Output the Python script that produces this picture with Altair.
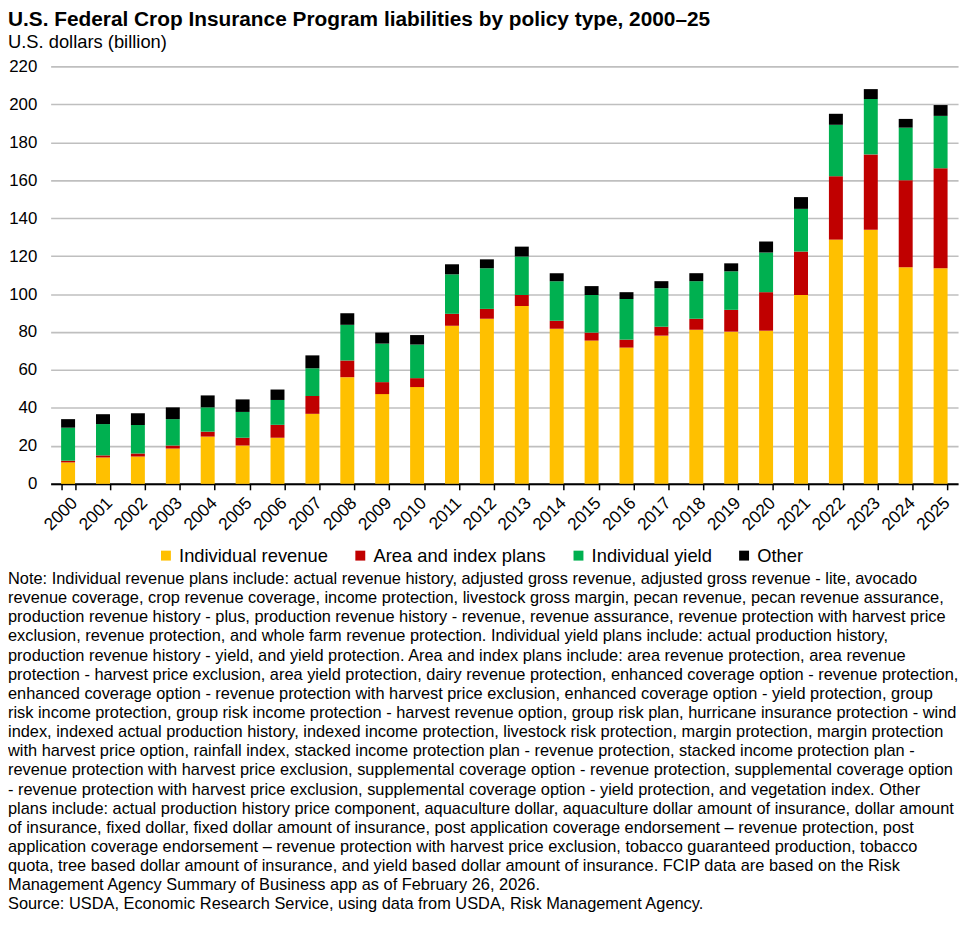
import altair as alt
import pandas as pd

years = [str(y) for y in range(2000, 2026)]
series = ["Individual revenue", "Area and index plans", "Individual yield", "Other"]
colors = ["#FFC000", "#C00000", "#00B050", "#000000"]

individual_revenue = [11.3, 13.9, 14.4, 18.6, 24.9, 20.2, 24.3, 36.9, 56.2, 47.3, 51.0, 83.3, 87.0,
                      93.7, 81.7, 75.5, 71.8, 78.1, 81.2, 80.2, 80.7, 99.5, 128.7, 133.9, 114.1, 113.6]
area_index = [0.9, 1.1, 1.6, 1.6, 2.6, 4.1, 6.8, 9.4, 8.8, 6.3, 4.7, 6.3, 5.2,
              5.8, 4.2, 4.2, 4.2, 4.7, 5.8, 11.5, 20.3, 22.9, 33.4, 39.7, 45.9, 52.7]
individual_yield = [17.4, 16.5, 15.0, 13.9, 12.8, 13.6, 13.1, 14.6, 18.8, 20.3, 17.7, 20.8, 21.4,
                    20.3, 20.9, 19.8, 21.4, 20.3, 19.8, 20.3, 20.9, 22.5, 27.1, 29.2, 27.7, 27.6]
other = [4.5, 5.2, 6.2, 6.2, 6.3, 6.6, 5.5, 6.8, 6.1, 5.8, 5.0, 5.3, 4.7,
         5.2, 4.2, 4.7, 3.6, 3.7, 4.2, 4.2, 5.8, 6.2, 5.8, 5.2, 4.6, 5.7]

y_ticks = list(range(0, 221, 20))

title_text = "U.S. Federal Crop Insurance Program liabilities by policy type, 2000\u201325"
subtitle_text = "U.S. dollars (billion)"
note_lines = [
    "Note: Individual revenue plans include: actual revenue history, adjusted gross revenue, adjusted gross revenue - lite, avocado",
    "revenue coverage, crop revenue coverage, income protection, livestock gross margin, pecan revenue, pecan revenue assurance,",
    "production revenue history - plus, production revenue history - revenue, revenue assurance, revenue protection with harvest price",
    "exclusion, revenue protection, and whole farm revenue protection. Individual yield plans include: actual production history,",
    "production revenue history - yield, and yield protection. Area and index plans include: area revenue protection, area revenue",
    "protection - harvest price exclusion, area yield protection, dairy revenue protection, enhanced coverage option - revenue protection,",
    "enhanced coverage option - revenue protection with harvest price exclusion, enhanced coverage option - yield protection, group",
    "risk income protection, group risk income protection - harvest revenue option, group risk plan, hurricane insurance protection - wind",
    "index, indexed actual production history, indexed income protection, livestock risk protection, margin protection, margin protection",
    "with harvest price option, rainfall index, stacked income protection plan - revenue protection, stacked income protection plan -",
    "revenue protection with harvest price exclusion, supplemental coverage option - revenue protection, supplemental coverage option",
    "- revenue protection with harvest price exclusion, supplemental coverage option - yield protection, and vegetation index. Other",
    "plans include: actual production history price component, aquaculture dollar, aquaculture dollar amount of insurance, dollar amount",
    "of insurance, fixed dollar, fixed dollar amount of insurance, post application coverage endorsement \u2013 revenue protection, post",
    "application coverage endorsement \u2013 revenue protection with harvest price exclusion, tobacco guaranteed production, tobacco",
    "quota, tree based dollar amount of insurance, and yield based dollar amount of insurance. FCIP data are based on the Risk",
    "Management Agency Summary of Business app as of February 26, 2026.",
    "Source: USDA, Economic Research Service, using data from USDA, Risk Management Agency.",
]

rows = []
for i, yr in enumerate(years):
    for k, (name, vals) in enumerate(zip(series, [individual_revenue, area_index, individual_yield, other])):
        rows.append({"year": yr, "series": name, "value": vals[i], "order": k})
df = pd.DataFrame(rows)

FONT = "Liberation Sans"

bars = alt.Chart(df).mark_bar().encode(
    x=alt.X("year:N", sort=years,
            scale=alt.Scale(paddingInner=0.6, paddingOuter=0.3),
            axis=alt.Axis(title=None, labelAngle=-45, labelAlign="right", labelFontSize=17.5,
                          labelColor="black", domainColor="black", domainWidth=2,
                          tickColor="black", tickWidth=1.5, tickSize=6, tickBand="extent",
                          grid=False, labelPadding=4)),
    y=alt.Y("value:Q", stack="zero",
            scale=alt.Scale(domain=[0, 220], nice=False),
            axis=alt.Axis(values=y_ticks, title=None, domain=False, ticks=False,
                          labelFontSize=17, labelPadding=14, labelColor="black",
                          gridColor="#bfbfbf", gridWidth=1.6)),
    color=alt.Color("series:N", sort=series,
                    scale=alt.Scale(domain=series, range=colors),
                    legend=alt.Legend(title=None, orient="none", legendX=107, legendY=484,
                                      direction="horizontal", symbolType="square",
                                      symbolSize=100, labelFontSize=18.5, columnPadding=23,
                                      labelOffset=4, labelLimit=0, symbolStrokeWidth=0,
                                      labelColor="black")),
    order=alt.Order("order:Q", sort="ascending"),
)

one = pd.DataFrame({"a": [0]})

title = alt.Chart(one).mark_text(align="left", baseline="alphabetic", fontSize=21,
                                 fontWeight="bold", font=FONT, color="black").encode(
    x=alt.value(-43), y=alt.value(-41), text=alt.value(title_text))

subtitle = alt.Chart(one).mark_text(align="left", baseline="alphabetic", fontSize=18.5,
                                    font=FONT, color="black").encode(
    x=alt.value(-43), y=alt.value(-18), text=alt.value(subtitle_text))

notes = alt.Chart(one).mark_text(align="left", baseline="alphabetic", fontSize=16.5,
                                 font=FONT, color="black", lineHeight=19.3).encode(
    x=alt.value(-43), y=alt.value(522), text=alt.value(note_lines))

chart = alt.layer(bars, title, subtitle, notes).properties(
    width=915, height=421,
    autosize=alt.AutoSizeParams(type="none"),
    padding={"left": 43, "top": 55, "right": 6, "bottom": 440},
).configure(font=FONT).configure_view(stroke=None)

chart.save("out.html", embed_options={"renderer": "svg", "actions": False})
